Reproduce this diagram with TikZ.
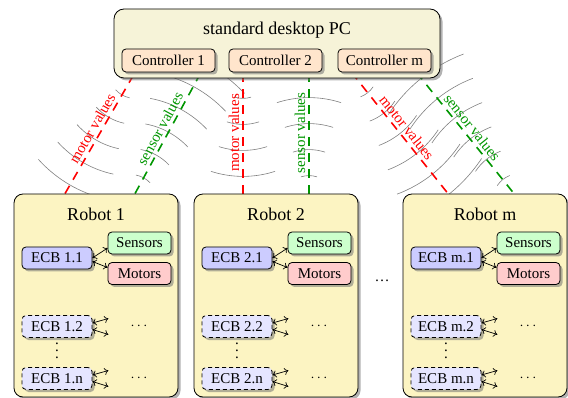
\documentclass[tikz,border=0pt]{standalone}
\usepackage{fontspec}
\setmainfont{Liberation Serif}
\usetikzlibrary{calc,shadows,backgrounds,decorations.pathreplacing,arrows.meta}
\definecolor{pcfill}{RGB}{246,243,216}
\definecolor{robotfill}{RGB}{252,244,194}
\definecolor{sensgreen}{RGB}{0,150,0}
\newcommand\tallvdots{\vbox{\baselineskip=7pt\lineskiplimit=0pt\hbox{.}\hbox{.}\hbox{.}}}
\tikzset{
  box/.style={draw=black, line width=0.8pt, rounded corners=4pt, inner sep=0pt,
    drop shadow={shadow xshift=2.5pt, shadow yshift=-2.5pt, fill=black!55, opacity=0.55}},
  pcbox/.style={box, fill=pcfill, rounded corners=10pt, minimum width=326pt, minimum height=69pt},
  ctrlbox/.style={box, fill=orange!20, minimum width=93pt, minimum height=23pt},
  robotbox/.style={box, fill=robotfill, rounded corners=9pt, minimum width=164pt, minimum height=203pt},
  ecbbox/.style={box, fill=blue!20, minimum width=70pt, minimum height=22pt},
  ecbdash/.style={ecbbox, fill=blue!10, dash pattern=on 4pt off 3pt},
  sensbox/.style={box, fill=green!20, minimum width=63pt, minimum height=22pt},
  motbox/.style={box, fill=red!20, minimum width=63pt, minimum height=22pt},
  title/.style={font=\fontsize{18}{21}\selectfont},
  link/.style={line width=1.6pt, dash pattern=on 9pt off 7pt},
  motorlink/.style={link, red},
  sensorlink/.style={link, sensgreen},
  lbl/.style={sloped, above, midway, inner sep=3pt},
  waves/.style={draw=gray, line width=0.6pt, decorate,
    decoration={expanding waves, angle=18, segment length=26pt}},
  bus/.style={{To[length=4pt,width=7pt]}-{To[length=4pt,width=7pt]}, line width=0.7pt},
}
\begin{document}
\begin{tikzpicture}[x=1pt, y=-1pt, font=\fontsize{15}{18}\selectfont]
\useasboundingbox (0,0) rectangle (568,398);

% desktop PC and its controllers
\node[pcbox] (pc) at (277,43.5) {};
\node[title] (pctitle) at (277,30) {standard desktop PC};
\node[ctrlbox] (c1) at (168.5,60.5) {Controller 1};
\node[ctrlbox] (c2) at (275.5,60.5) {Controller 2};
\node[ctrlbox] (cm) at (384.5,60.5) {Controller m};

% robots with their ECBs
\foreach \k/\cx in {1/96, 2/276, m/485} {
  \node[robotbox] (r\k) at (\cx,295.5) {};
  \node[title] (rt\k) at (\cx,214) {Robot \k};
  \node[ecbbox] (e\k x) at (\cx-39,258) {ECB \k.1};
  \node[sensbox] (s\k) at (\cx+43.5,243) {Sensors};
  \node[motbox] (m\k) at (\cx+43.5,273.5) {Motors};
  \node[ecbdash] (e\k y) at (\cx-39,326.5) {ECB \k.2};
  \node[ecbdash] (e\k z) at (\cx-39,378.5) {ECB \k.n};
  \node[inner sep=0pt] (vd\k) at (\cx-39,351) {\tallvdots};
  \node (hy\k) at (\cx+43,326) {$\cdots$};
  \node (hz\k) at (\cx+43,378) {$\cdots$};
  \draw[bus] (e\k x.east) -- ([yshift=-5pt]s\k.west);
  \draw[bus] ([yshift=-3.5pt]e\k x.east) -- ([yshift=6pt]m\k.west);
  % open-ended buses of the further ECBs
  \foreach \j in {y,z} {
    \coordinate (u\k\j) at ($(e\k\j.east)+(16,-8)$);
    \coordinate (d\k\j) at ($(e\k\j.east)+(16,8)$);
    \draw[bus] ([yshift=3.5pt]e\k\j.east) -- (u\k\j);
    \draw[bus] ([yshift=-3pt]e\k\j.east) -- (d\k\j);
  }
}
\node (gap) at (382,281) {\dots};

% wireless links between controllers and robots
\begin{scope}[on background layer]
  \coordinate (a1) at ($(c1.south)+(-33.5,0)$);
  \coordinate (b1) at ($(r1.north)+(-31,0)$);
  \coordinate (p1) at ($(c1.south)+(32.5,0)$);
  \coordinate (q1) at ($(r1.north)+(39,0)$);
  \coordinate (a2) at ($(c2.south)+(-32.5,0)$);
  \coordinate (b2) at ($(r2.north)+(-33,0)$);
  \coordinate (p2) at ($(c2.south)+(33.5,0)$);
  \coordinate (q2) at ($(r2.north)+(33,0)$);
  \coordinate (am) at ($(cm.south)+(-33,0)$);
  \coordinate (bm) at ($(rm.north)+(-37,0)$);
  \coordinate (pm) at ($(cm.south)+(32,0)$);
  \coordinate (qm) at ($(rm.north)+(29,0)$);
  \foreach \k in {1,2,m} {
    \path[waves] (a\k) -- ($(b\k)!-10pt!(a\k)$);
    \path[waves] ($(q\k)!-8pt!(p\k)$) -- ($(p\k)!-10pt!(q\k)$);
  }
  \draw[motorlink] (b1) -- (a1) node[lbl] {motor values};
  \draw[sensorlink] (q1) -- (p1) node[lbl] {sensor values};
  \draw[motorlink] (b2) -- (a2) node[lbl] {motor values};
  \draw[sensorlink] (q2) -- (p2) node[lbl] {sensor values};
  \draw[motorlink] (am) -- (bm) node[lbl] {motor values};
  \draw[sensorlink] (pm) -- (qm) node[lbl] {sensor values};
\end{scope}
\end{tikzpicture}
\end{document}
